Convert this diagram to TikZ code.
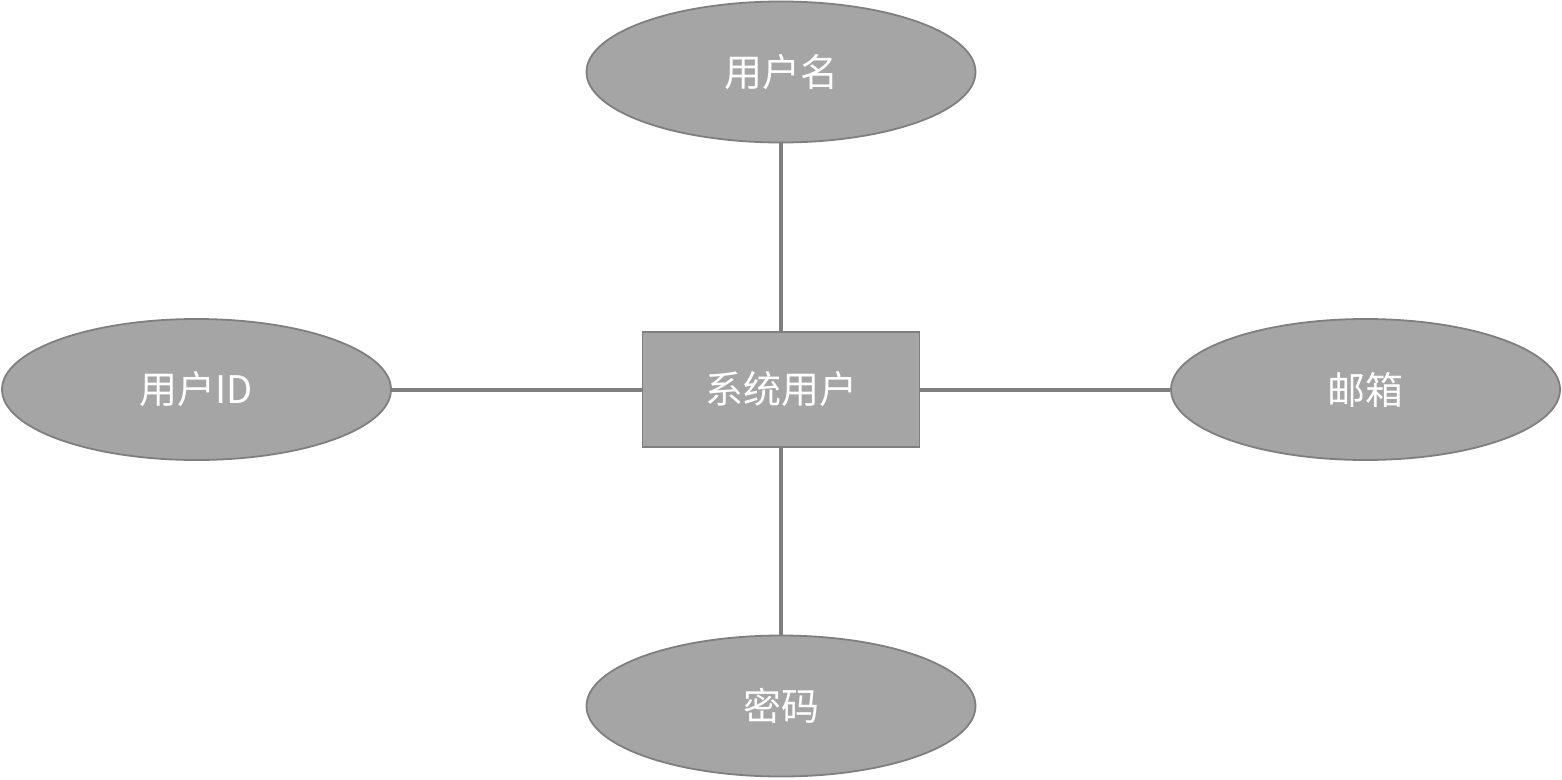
\documentclass[tikz,border=0pt]{standalone}
\usepackage{fontspec}
\newfontfamily\cjk{Noto Sans CJK SC}
\usetikzlibrary{shapes.geometric, positioning}
\definecolor{attrfill}{HTML}{A5A5A5}
\definecolor{attrline}{HTML}{7F7F7F}

\begin{document}
\begin{tikzpicture}[x=1pt, y=-1pt, font=\cjk\fontsize{38}{44}\selectfont, text=white,
  attr/.style={ellipse, draw=attrline, fill=attrfill, line width=1.8pt, minimum width=389pt, minimum height=141pt, inner sep=0pt},
  entity/.style={rectangle, draw=attrline, fill=attrfill, line width=1.8pt, minimum width=277pt, minimum height=115pt, inner sep=0pt},
  link/.style={draw=attrline, line width=4pt}]
  \useasboundingbox (0,0) rectangle (1562,779);
  \node[entity] (user) at (781,389.5) {系统用户};
  \node[attr] (name) at (781,72) {用户名};
  \node[attr] (uid) at (196.5,389.5) {用户ID};
  \node[attr] (mail) at (1365.5,389.5) {邮箱};
  \node[attr] (pwd) at (781,706) {密码};

  \draw[link] (user) -- (name);
  \draw[link] (user) -- (uid);
  \draw[link] (user) -- (mail);
  \draw[link] (user) -- (pwd);
\end{tikzpicture}
\end{document}
